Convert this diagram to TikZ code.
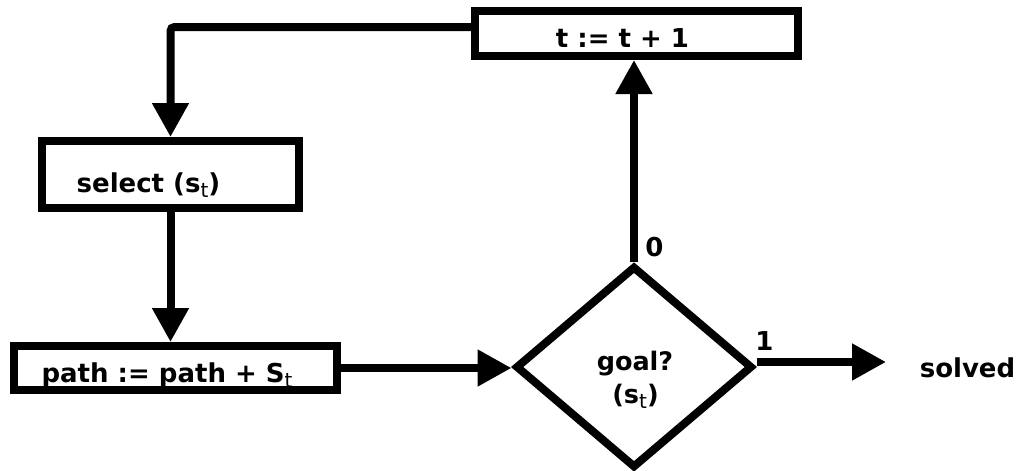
\documentclass[tikz,border=0pt]{standalone}
\usepackage{fontspec}
\setmainfont{DejaVu Sans}
\usetikzlibrary{arrows.meta,shapes.geometric}
\newcommand\subt[1][20]{\raisebox{-0.2em}{\mdseries\fontsize{#1}{#1}\selectfont t}}
\begin{document}
\begin{tikzpicture}[x=1pt,y=-1pt,
  box/.style={draw, line width=8pt, inner sep=0pt, rectangle},
  conn/.style={line width=8pt, -{Triangle[length=34pt,width=35pt]}},
  bigtxt/.style={font=\fontsize{26}{30}\selectfont\bfseries, inner sep=0pt, anchor=base},
  smalltxt/.style={font=\fontsize{25.5}{30}\selectfont\bfseries, inner sep=0pt, anchor=base}]
\useasboundingbox (0,0) rectangle (1020,471);
% boxes
\node[box, minimum width=323pt, minimum height=45pt] (top) at (636.5,33.5) {};
\node[box, minimum width=257pt, minimum height=67pt] (sel) at (170.5,174.5) {};
\node[box, minimum width=323pt, minimum height=44pt] (path) at (175.5,368) {};
\node[draw, diamond, line width=8pt, inner sep=0pt, minimum width=237pt, minimum height=202pt] (dia) at (634,367) {};
% texts
\node[bigtxt] (topt) at (622.5,47) {t := t + 1};
\node[bigtxt] (selt) at (148.5,192) {select (s\subt)};
\node[bigtxt] (patht) at (167,382) {path := path + S\subt};
\node[smalltxt] (goalt) at (635,370) {goal?};
\node[smalltxt] (goals) at (635.5,403) {(s\subt)};
\node[bigtxt] (zero) at (654.5,256) {0};
\node[bigtxt] (one) at (764.5,350) {1};
\node[bigtxt] (solved) at (967.5,377) {solved};
% connectors
\coordinate (bend) at (170.5,27);
\coordinate (out) at (886,362);
\draw[conn, rounded corners=4pt] (top.west |- bend) -- (bend) -- (sel.north);
\draw[conn] (sel.south) -- (sel.south |- path.north);
\draw[conn] (path.east) -- (path.east -| dia.west);
\draw[conn] (dia.north) -- (dia.north |- top.south);
\draw[conn] (dia.east |- out) -- (out);
\end{tikzpicture}
\end{document}
